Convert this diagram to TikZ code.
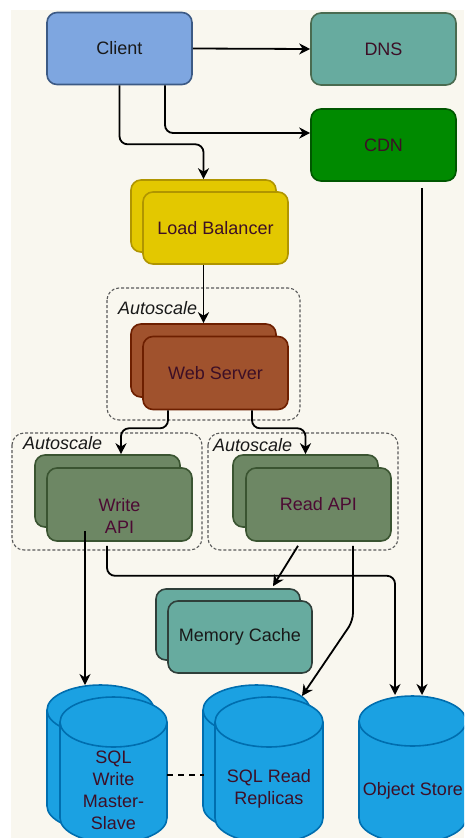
\documentclass[tikz,border=0pt]{standalone}
\usepackage{fontspec}
\setmainfont{Liberation Sans}
\usetikzlibrary{arrows.meta}
\definecolor{paper}{HTML}{F9F7EF}
\definecolor{clientfill}{HTML}{7EA6E0}
\definecolor{clientline}{HTML}{3C5A85}
\definecolor{tealfill}{HTML}{67AB9F}
\definecolor{tealline}{HTML}{4A6B50}
\definecolor{cdnfill}{HTML}{008A00}
\definecolor{cdnline}{HTML}{005700}
\definecolor{lbfill}{HTML}{E3C800}
\definecolor{lbline}{HTML}{B09500}
\definecolor{wsfill}{HTML}{A0522D}
\definecolor{wsline}{HTML}{6D1F00}
\definecolor{apifill}{HTML}{6D8764}
\definecolor{apiline}{HTML}{3A5431}
\definecolor{memline}{HTML}{2F3F3A}
\definecolor{dbfill}{HTML}{1BA1E2}
\definecolor{dbline}{HTML}{006EAF}
\definecolor{darkred}{HTML}{3D0F26}
\definecolor{plum}{HTML}{4C0A33}
\definecolor{groupline}{HTML}{5A5A5A}
\newcommand\lblfont{\fontsize{18}{22}\selectfont}
% cylinder: left, right, top, bottom
\newcommand\dbcyl[4]{%
  \filldraw[dbbody] ({#1},{#3+25}) -- ({#1},{#4-25})
    arc[start angle=180,end angle=0,x radius={(#2-#1)/2},y radius=25]
    -- ({#2},{#3+25})
    arc[start angle=360,end angle=180,x radius={(#2-#1)/2},y radius=25] -- cycle;
  \draw[dbbody,fill=none] ({#1},{#3+25})
    arc[start angle=180,end angle=0,x radius={(#2-#1)/2},y radius=25];
}
\begin{document}
\begin{tikzpicture}[x=1pt,y=-1pt,
  box/.style={draw, rounded corners=10pt, line width=1.6pt, minimum width=145pt,
    minimum height=72pt, inner sep=0pt, font=\lblfont, align=center},
  clientbox/.style={box, fill=clientfill, draw=clientline, text=black!90},
  dnsbox/.style={box, fill=tealfill, draw=tealline, text=darkred},
  cdnbox/.style={box, fill=cdnfill, draw=cdnline, text=darkred},
  lbbox/.style={box, fill=lbfill, draw=lbline, text=darkred},
  wsbox/.style={box, fill=wsfill, draw=wsline, text=darkred},
  apibox/.style={box, fill=apifill, draw=apiline, text=plum},
  membox/.style={box, fill=tealfill, draw=memline, text=black!90},
  dbbody/.style={fill=dbfill, draw=dbline, line width=1.6pt},
  lbl/.style={font=\lblfont, align=center, inner sep=0pt},
  grouplbl/.style={font=\lblfont\itshape, text=black!90, inner sep=0pt, anchor=west},
  groupbox/.style={draw=groupline, dash pattern=on 3pt off 2pt, line width=1.1pt, rounded corners=12pt},
  conn/.style={line width=1.8pt, rounded corners=8pt,
    -{Stealth[length=11pt,width=11pt,inset=3.5pt]}},
  link/.style={line width=1.8pt, dash pattern=on 6pt off 5pt}
]
\useasboundingbox (0,0) rectangle (464,838);
\clip (0,0) rectangle (464,838);
\fill[white] (0,0) rectangle (464,838);
\fill[paper] (11,10) rectangle (464,838);

% autoscale groups
\draw[groupbox] (107,288) rectangle (300,420);
\node[grouplbl] (wsgroup) at (118,308) {Autoscale};
\draw[groupbox] (12,433) rectangle (202,550);
\node[grouplbl] (wrgroup) at (23,443) {Autoscale};
\draw[groupbox] (208,433) rectangle (398,550);
\node[grouplbl] (rdgroup) at (213,445) {Autoscale};

% top row
\node[clientbox] (client) at (119.5,48.5) {Client};
\node[dnsbox] (dns) at (383.5,49) {DNS};
\node[cdnbox] (cdn) at (383.5,145) {CDN};

% stacked services
\node[lbbox] (lbback) at (203.5,216) {};
\node[lbbox] (lbfront) at (215.5,228) {Load Balancer};
\node[wsbox, minimum height=73pt] (wsback) at (203.5,360.5) {};
\node[wsbox, minimum height=73pt] (wsfront) at (215.5,373) {Web Server};
\node[apibox] (wrback) at (107.5,491) {};
\node[apibox, minimum height=73pt] (wrfront) at (119.5,504.5) {};
\node[lbl, text=plum] (wrtext) at (119.5,516) {Write\\API};
\node[apibox] (rdback) at (305.5,491) {};
\node[apibox, minimum height=73pt] (rdfront) at (318.5,504.5) {Read API};
\node[membox, minimum width=144pt, minimum height=71pt] (memback) at (228,624.5) {};
\node[membox, minimum width=144pt] (memfront) at (240,637) {Memory Cache};

% databases
\dbcyl{47}{154}{685}{831}
\dbcyl{60}{167}{697}{843}
\dbcyl{203}{310}{685}{831}
\dbcyl{215}{323}{697}{843}
\dbcyl{359}{466}{696}{843}
\node[lbl, text=darkred] (sqlw) at (113.5,790) {SQL\\Write\\Master-\\Slave};
\node[lbl, text=darkred] (sqlr) at (269,789) {SQL Read\\Replicas};
\node[lbl, text=darkred] (objs) at (413,791) {Object Store};
\coordinate (sqlwin) at (85,685);
\coordinate (sqlwside) at (167,775);
\coordinate (sqlrin) at (302,696);
\coordinate (sqlrside) at (204,775);
\coordinate (objwr) at (395,695);
\coordinate (objcdn) at (422,695);

% connectors
\draw[conn] (client.east) -- (dns.west);
\draw[conn] (client.south) -- ++(0,59) -| (lbback.north);
\draw[conn] ([xshift=45.5pt]client.south) |- ([yshift=12pt]cdn.west);
\draw[conn] ([xshift=38.5pt,yshift=-6pt]cdn.south) -- (objcdn);
\draw[conn] ([xshift=-12pt]lbfront.south) -- (wsback.north);
\draw[conn] ([xshift=-47.5pt]wsfront.south) -- ++(0,18) -| ([xshift=13.5pt]wrback.north);
\draw[conn] ([xshift=36.5pt]wsfront.south) -- ++(0,18) -| (rdback.north);
\draw[conn] ([xshift=-22.5pt,yshift=-3pt]wrback.south) -- (sqlwin);
\draw[conn] ([xshift=-12.5pt,yshift=-4pt]wrfront.south) -- ++(0,30) -| (objwr);
\draw[conn] ([xshift=-20.5pt,yshift=-4pt]rdfront.south) -- ([xshift=45pt,yshift=2pt]memback.north);
\draw[conn] ([xshift=34.5pt,yshift=-4pt]rdfront.south) -- ++(0,75) -- (sqlrin);
\draw[link] (sqlwside) -- (sqlrside);
\end{tikzpicture}
\end{document}
